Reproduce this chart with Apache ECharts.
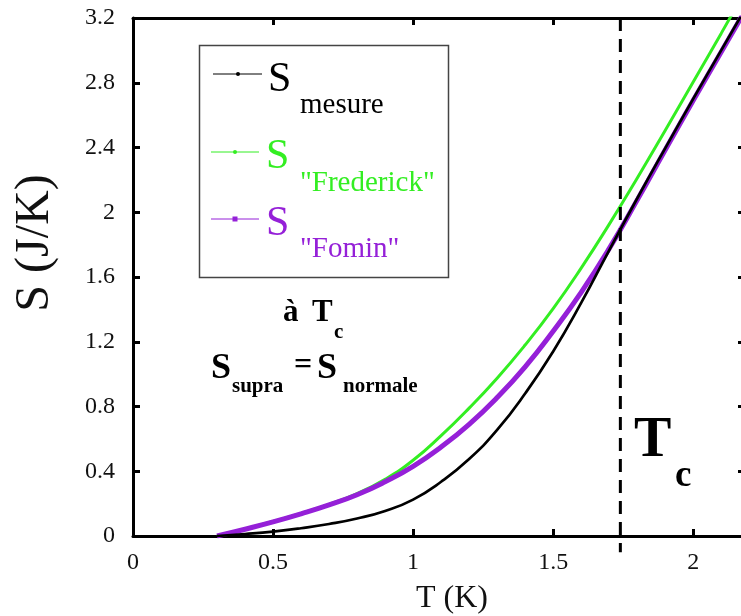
<!DOCTYPE html>
<html>
<head>
<meta charset="utf-8">
<script src="https://cdn.jsdelivr.net/npm/echarts@6/dist/echarts.min.js"></script>
<style>
html,body{margin:0;padding:0;background:#fff;}
#chart{width:741px;height:616px;}
</style>
</head>
<body>
<div id="chart"></div>
<script>
// ---- data ----
const temperatures = [0.3,0.4,0.5,0.6,0.7,0.8,0.9,1.0,1.1,1.2,1.3,1.4,1.5,1.6,1.7,1.8,1.9,2.0,2.1,2.2];
const sMesure     = [0,0.012,0.027,0.048,0.074,0.108,0.155,0.225,0.335,0.475,0.655,0.88,1.14,1.44,1.765,2.085,2.395,2.70,3.00,3.30];
const sFrederick  = [0,0.043,0.09,0.14,0.195,0.262,0.35,0.468,0.62,0.79,0.975,1.18,1.405,1.655,1.925,2.21,2.505,2.805,3.105,3.41];
const sFomin      = [0,0.042,0.087,0.137,0.192,0.255,0.335,0.43,0.55,0.69,0.855,1.045,1.265,1.505,1.775,2.075,2.385,2.69,2.99,3.29];
const Tc = 1.74;
const seriesNames = ['S mesure','S "Frederick"','S "Fomin"'];
const xLabelStep = 0.5;
const yLabelStep = 0.4;

const FONT = '"Liberation Serif", "Times New Roman", serif';
const GREEN = '#33EE22';
const PURPLE = '#9520D8';

function pairs(xs, ys){ return xs.map((x,i)=>[x, ys[i]]); }

const chart = echarts.init(document.getElementById('chart'), null, {renderer:'canvas'});

const axisLineStyle = {color:'#000', width:3};
const tickStyle = {color:'#000', width:3};

function txt(x, y, text, size, color, bold){
  return {type:'text', x:x, y:y, z:100,
    style:{text:text, fill:color, font:(bold?'bold ':'')+size+'px '+FONT, align:'left', verticalAlign:'middle'}};
}

const option = {
  animation:false,
  backgroundColor:'#fff',
  grid:{left:133, top:18, right:-4, bottom:80, containLabel:false, outerBoundsMode:'none'},
  xAxis:[{
    type:'value', min:0, max:2.185, interval:xLabelStep, position:'bottom',
    axisLine:{show:true, onZero:false, lineStyle:axisLineStyle},
    axisTick:{show:true, inside:true, length:7, lineStyle:tickStyle},
    axisLabel:{fontSize:24, fontFamily:FONT, color:'#111', margin:15, showMaxLabel:false},
    splitLine:{show:false}
  },{
    type:'value', min:0, max:2.185, interval:xLabelStep, position:'top',
    axisLine:{show:true, onZero:false, lineStyle:axisLineStyle},
    axisTick:{show:true, inside:true, length:7, lineStyle:tickStyle},
    axisLabel:{show:false}, splitLine:{show:false}
  }],
  yAxis:[{
    type:'value', min:0, max:3.2, interval:yLabelStep, position:'left',
    axisLine:{show:true, onZero:false, lineStyle:axisLineStyle},
    axisTick:{show:true, inside:true, length:7, lineStyle:tickStyle},
    axisLabel:{fontSize:24, fontFamily:FONT, color:'#111', margin:18},
    splitLine:{show:false}
  },{
    type:'value', min:0, max:3.2, interval:yLabelStep, position:'right',
    axisLine:{show:true, onZero:false, lineStyle:axisLineStyle},
    axisTick:{show:true, inside:true, length:7, lineStyle:tickStyle},
    axisLabel:{show:false}, splitLine:{show:false}
  }],
  series:[
    {name:seriesNames[1], type:'line', data:pairs(temperatures, sFrederick), smooth:0.5, symbol:'none',
      lineStyle:{color:GREEN, width:3}, z:3},
    {name:seriesNames[2], type:'line', data:pairs(temperatures, sFomin), smooth:0.5, symbol:'none',
      lineStyle:{color:PURPLE, width:5}, z:4},
    {name:seriesNames[0], type:'line', data:pairs(temperatures, sMesure), smooth:0.5, symbol:'none',
      lineStyle:{color:'#000', width:2.7}, z:5},
    {name:'Tc', type:'line', data:[[Tc,3.2],[Tc,-0.1]], clip:false, symbol:'none', silent:true,
      lineStyle:{color:'#000', width:3, type:[13,8]}, z:6}
  ],
  graphic:[
    // axis titles
    {type:'text', x:452, y:599, z:100,
      style:{text:'T (K)', fill:'#111', font:'32px '+FONT, align:'center', verticalAlign:'middle'}},
    {type:'text', x:35, y:243, rotation:Math.PI/2, z:100,
      style:{text:'S (J/K)', fill:'#111', font:'48px '+FONT, align:'center', verticalAlign:'middle'}},
    // legend box
    {type:'rect', shape:{x:199.5, y:45.5, width:249, height:232}, style:{fill:'#fff', stroke:'#444', lineWidth:1.5}, z:50},
    {type:'line', shape:{x1:213, y1:74, x2:262, y2:74}, style:{stroke:'#000', lineWidth:1}, z:60},
    {type:'circle', shape:{cx:238, cy:74, r:2}, style:{fill:'#000'}, z:61},
    {type:'line', shape:{x1:211, y1:152, x2:259, y2:152}, style:{stroke:GREEN, lineWidth:1}, z:60},
    {type:'circle', shape:{cx:235, cy:152, r:2}, style:{fill:GREEN}, z:61},
    {type:'line', shape:{x1:211, y1:219, x2:259, y2:219}, style:{stroke:PURPLE, lineWidth:1}, z:60},
    {type:'rect', shape:{x:232.5, y:216.5, width:5, height:5}, style:{fill:PURPLE}, z:61},
    txt(268, 80, 'S', 42, '#000', false),
    txt(300, 105, 'mesure', 29, '#000', false),
    txt(266, 157, 'S', 42, GREEN, false),
    txt(300, 183, '"Frederick"', 29, GREEN, false),
    txt(266, 224, 'S', 42, PURPLE, false),
    txt(300, 249, '"Fomin"', 29, PURPLE, false),
    // annotation
    txt(283, 313, 'à', 31, '#000', true),
    txt(312, 313, 'T', 31, '#000', true),
    txt(334, 333, 'c', 21, '#000', true),
    txt(211, 369, 'S', 36, '#000', true),
    txt(232, 387, 'supra', 21, '#000', true),
    txt(294, 366, '=', 32, '#000', true),
    txt(317, 369, 'S', 36, '#000', true),
    txt(343, 387, 'normale', 21, '#000', true),
    // Tc label
    txt(634, 442, 'T', 56, '#000', true),
    txt(675, 476, 'c', 37, '#000', true)
  ]
};
chart.setOption(option);
</script>
</body>
</html>
